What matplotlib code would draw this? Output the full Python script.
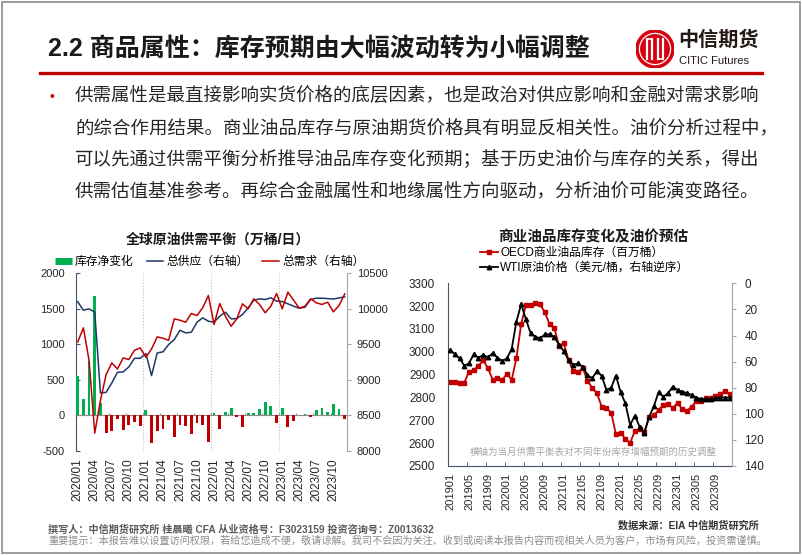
import matplotlib
matplotlib.use('Agg')
import matplotlib.pyplot as plt
from matplotlib.lines import Line2D
from matplotlib.patches import Circle, Rectangle
import numpy as np
import pandas as pd

plt.rcParams['font.family'] = ['Liberation Sans', 'Noto Sans CJK SC']
plt.rcParams['axes.unicode_minus'] = False

# Left chart data: global crude supply / demand balance (10k bbl/d), 2020/01 - 2023/12
months_left = pd.date_range('2020-01', periods=48, freq='MS').strftime('%Y/%m').tolist()
stock_change = [560, 230, 760, 1680, 180, -247, -224, -46, -210, -130, -98, -144,
                80, -387, -224, -191, -60, -303, -140, -154, -256, -102, -140, -368,
                35, -186, 45, 100, -18, -168, 35, 28, 93, 185, 137, -110,
                102, -163, -74, 10, 18, -28, 74, 97, 46, 167, 93, -56]
total_supply = [10096, 9977, 9997, 9950, 8815, 8824, 8956, 9105, 9111, 9181, 9302, 9302,
                9368, 9059, 9378, 9392, 9495, 9565, 9696, 9659, 9668, 9809, 9870, 9823,
                9809, 9893, 9950, 9856, 9860, 9917, 10011, 10118, 10137, 10128, 10152, 10104,
                10100, 10067, 10034, 10005, 10020, 10128, 10146, 10146, 10140, 10135, 10150, 10165]
total_demand = [9530, 9730, 9270, 8252, 8710, 9073, 9237, 9152, 9307, 9284, 9415, 9448,
                9316, 9434, 9603, 9584, 9555, 9856, 9837, 9809, 9931, 9903, 10011, 10184,
                9776, 10071, 9893, 9752, 9856, 10067, 9997, 10137, 10058, 9941, 10034, 10212,
                9997, 10231, 10118, 10005, 10034, 10137, 10081, 10058, 10090, 9955, 10043, 10207]

# Right chart data: OECD commercial stocks (mn bbl) and WTI (USD/bbl), 2019/01 - 2023/12
months_right = pd.date_range('2019-01', periods=60, freq='MS').strftime('%Y%m').tolist()
oecd_stock = [2869, 2866, 2862, 2865, 2913, 2920, 2939, 2962, 2928, 2877, 2884, 2877,
              2904, 2877, 2972, 3121, 3205, 3206, 3212, 3208, 3173, 3121, 3103, 3027,
              3037, 2964, 2916, 2910, 2930, 2872, 2843, 2818, 2760, 2753, 2734, 2639,
              2646, 2618, 2602, 2653, 2662, 2650, 2713, 2722, 2745, 2767, 2773, 2753,
              2777, 2748, 2742, 2760, 2785, 2785, 2797, 2797, 2808, 2815, 2828, 2815]
wti_price = [51.1, 54.2, 57.5, 63.1, 61.3, 54.4, 57.0, 54.9, 56.7, 53.6, 57.0, 59.5,
             57.5, 50.3, 29.4, 16.1, 27.4, 38.3, 40.9, 42.2, 39.1, 39.1, 40.9, 47.3,
             51.9, 58.8, 62.6, 61.3, 63.9, 70.3, 72.8, 67.2, 71.0, 81.8, 80.0, 70.8,
             83.5, 92.0, 108.6, 101.4, 109.9, 114.9, 102.4, 94.3, 83.5, 86.9, 84.3, 79.2,
             81.8, 83.0, 84.1, 85.6, 87.6, 88.7, 88.7, 88.7, 88.1, 87.6, 87.6, 87.6]

body_lines = [
    "供需属性是最直接影响实货价格的底层因素，也是政治对供应影响和金融对需求影响",
    "的综合作用结果。商业油品库存与原油期货价格具有明显反相关性。油价分析过程中，",
    "可以先通过供需平衡分析推导油品库存变化预期；基于历史油价与库存的关系，得出",
    "供需估值基准参考。再综合金融属性和地缘属性方向驱动，分析油价可能演变路径。",
]

# colours
red = '#c00000'
green = '#00b050'
navy = '#1f3864'
spine_dark = '#44546a'
spine_grey = '#a6a6a6'
text_dark = '#262626'

W, H = 802, 555


def fx(x):
    return x / W


def fy(y):
    return 1 - y / H


fig = plt.figure(figsize=(8.02, 5.55), dpi=100)
fig.patches.append(Rectangle((0.002, 0.004), 0.995, 0.992, transform=fig.transFigure,
                             fill=False, ec='#8c8c8c', lw=1.2))

# header
fig.text(fx(48), fy(49), "2.2 商品属性：库存预期由大幅波动转为小幅调整", fontsize=18,
         fontweight='bold', va='center', color='#1a1a1a')
fig.add_artist(Line2D([fx(40), fx(762)], [fy(73), fy(73)], color=red, lw=2.4))

# logo
lax = fig.add_axes([fx(636), fy(68), 38 / W, 38 / H])
lax.set_xlim(-1, 1)
lax.set_ylim(-1, 1)
lax.set_aspect('equal')
lax.axis('off')
lax.add_patch(Circle((0, 0), 1, color='#d7000f'))
lax.add_patch(Circle((0, 0), 0.82, fill=False, ec='white', lw=0.9))
for xv in [-0.42, -0.14, 0.14, 0.42]:
    lax.plot([xv, xv], [-0.55, 0.55], color='white', lw=1.6)
lax.plot([-0.42, -0.14], [0.55, 0.55], color='white', lw=1.2)
lax.plot([0.14, 0.42], [-0.55, -0.55], color='white', lw=1.2)
fig.text(fx(678), fy(40), "中信期货", fontsize=14.5, fontweight='bold', va='center', color='#231815')
fig.text(fx(679), fy(61), "CITIC Futures", fontsize=8, va='center', color='#231815')

# body text
fig.text(fx(50), fy(97), "•", fontsize=10, va='center', color=red)
for k, line in enumerate(body_lines):
    fig.text(fx(75), fy(97 + k * 31.3), line, fontsize=13.3, va='center', color=text_dark)

# ---- left chart ----
xl = np.arange(len(months_left))
ax1 = fig.add_axes([fx(76), fy(451), (347 - 76) / W, (451 - 273) / H])
ax1.bar(xl, stock_change, width=0.5, color=[green if v >= 0 else red for v in stock_change], zorder=3)
ax1.axhline(0, color='#8c8c8c', lw=0.8, zorder=2)
for xv in [11.5, 23.5, 35.5]:
    ax1.axvline(xv, color='#bfbfbf', lw=0.8, ls=':', zorder=1)
ax1.vlines(np.arange(2.5, 48, 3), 0, 35, color='#8c8c8c', lw=0.8, zorder=2)
ax1.set_xlim(-0.3, 47.4)
ax1.set_ylim(-500, 2000)
ax1.set_yticks(range(-500, 2001, 500))
ax1.set_xticks(xl[::3])
ax1.set_xticklabels(months_left[::3], rotation=90, fontsize=8.5, color=text_dark)
ax1.tick_params(axis='x', length=0, pad=5)
ax1.tick_params(axis='y', direction='in', length=3, labelsize=8, pad=8, colors=spine_dark,
                labelcolor=text_dark)
for s in ['top', 'right', 'bottom']:
    ax1.spines[s].set_visible(False)
ax1.spines['left'].set_color(spine_dark)
ax1.patch.set_alpha(0)

ax2 = ax1.twinx()
ax2.plot(xl, total_supply, color=navy, lw=1.1)
ax2.plot(xl, total_demand, color=red, lw=1.1)
ax2.set_ylim(8000, 10500)
ax2.set_yticks(range(8000, 10501, 500))
ax2.tick_params(axis='y', direction='out', length=3, labelsize=8, pad=4, colors=spine_grey,
                labelcolor=text_dark)
for s in ['top', 'left', 'bottom']:
    ax2.spines[s].set_visible(False)
ax2.spines['right'].set_color(spine_grey)

fig.text(fx(218), fy(240), "全球原油供需平衡（万桶/日）", ha='center', va='center',
         fontsize=10, fontweight='bold', color='#1a1a1a')
left_handles = [Line2D([], [], color=green, lw=5, solid_capstyle='butt'),
                Line2D([], [], color=navy, lw=1.1),
                Line2D([], [], color=red, lw=1.1)]
fig.legend(left_handles, ["库存净变化", "总供应（右轴）", "总需求（右轴）"],
           loc='center left', bbox_to_anchor=(fx(55), fy(262)), ncol=3, frameon=False,
           fontsize=8.5, handlelength=1.4, handletextpad=0.3, columnspacing=1.1,
           borderaxespad=0, borderpad=0)

# ---- right chart ----
xr = np.arange(len(months_right))
ax3 = fig.add_axes([fx(447.7), fy(466), (732 - 447.7) / W, (466 - 283.3) / H])
ax3.plot(xr, oecd_stock, color=red, lw=1.3, marker='s', ms=2.6)
ax3.set_xlim(-0.5, 59.5)
ax3.set_ylim(2500, 3300)
ax3.set_yticks(range(2500, 3301, 100))
ax3.set_xticks(xr[::4])
ax3.set_xticklabels(months_right[::4], rotation=90, fontsize=8, color=text_dark)
ax3.set_xticks(np.arange(3.5, 60, 4), minor=True)
ax3.tick_params(axis='x', which='major', length=0, pad=5)
ax3.tick_params(axis='x', which='minor', direction='in', length=3, color=spine_dark)
ax3.tick_params(axis='y', direction='out', length=0, labelsize=8.5, pad=9, labelcolor=text_dark)
ax3.spines['top'].set_visible(False)
ax3.spines['right'].set_visible(False)
ax3.spines['left'].set_color(spine_dark)
ax3.spines['bottom'].set_color(spine_dark)
ax3.patch.set_alpha(0)

ax4 = ax3.twinx()
ax4.plot(xr, wti_price, color='black', lw=1.3, marker='^', ms=3.2)
ax4.set_ylim(140, 0)
ax4.set_yticks(range(0, 141, 20))
ax4.tick_params(axis='y', direction='out', length=3, labelsize=8.5, pad=6, colors=spine_grey,
                labelcolor=text_dark)
for s in ['top', 'left', 'bottom']:
    ax4.spines[s].set_visible(False)
ax4.spines['right'].set_color(spine_grey)

fig.text(fx(593), fy(237), "商业油品库存变化及油价预估", ha='center', va='center',
         fontsize=10.5, fontweight='bold', color='#1a1a1a')
right_handles = [Line2D([], [], color=red, lw=1.3, marker='s', ms=2.6),
                 Line2D([], [], color='black', lw=1.3, marker='^', ms=3.2)]
fig.legend(right_handles, ["OECD商业油品库存（百万桶）", "WTI原油价格（美元/桶，右轴逆序）"],
           loc='upper left', bbox_to_anchor=(fx(480), fy(247)), frameon=False,
           fontsize=8.5, handlelength=1.5, handletextpad=0.2, labelspacing=0.25,
           borderaxespad=0, borderpad=0)
fig.text(fx(593), fy(452), "横轴为当月供需平衡表对不同年份库存增幅预期的历史调整",
         ha='center', va='center', fontsize=6.8, color='#a6a6a6')

# footer
fig.text(fx(618), fy(525), "数据来源：EIA 中信期货研究所", fontsize=7.3, fontweight='bold',
         va='center', color='#333333')
fig.text(fx(48), fy(530), "撰写人：中信期货研究所 桂晨曦 CFA 从业资格号：F3023159 投资咨询号：Z0013632",
         fontsize=7.3, fontweight='bold', va='center', color='#595959')
fig.text(fx(48), fy(541), "重要提示：本报告难以设置访问权限，若给您造成不便，敬请谅解。我司不会因为关注、"
         "收到或阅读本报告内容而视相关人员为客户，市场有风险，投资需谨慎。",
         fontsize=7.3, va='center', color='#8c8c8c')

fig.savefig('out.png', dpi=100)
